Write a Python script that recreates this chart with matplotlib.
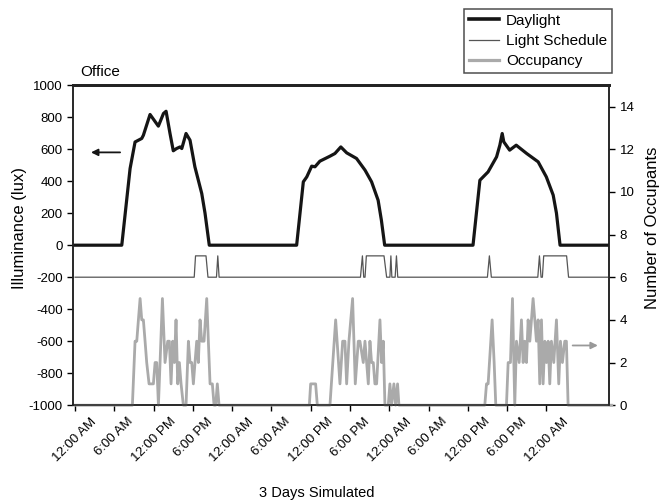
import matplotlib
matplotlib.use("Agg")
import matplotlib.pyplot as plt

plt.rcParams['font.family'] = ['Liberation Sans', 'DejaVu Sans']
plt.rcParams['axes.unicode_minus'] = False

# hours since start of simulation
daylight_hours = [0, 7.13, 8.4, 9.16, 10.18, 10.43, 11.45, 12.72, 13.5, 13.9, 14.5, 15.0, 15.5,
                  16.03, 16.3, 16.95, 17.56, 18.3, 19.35, 19.85, 20.5,
                  33.85, 34.87, 35.4, 36.15, 36.65, 37.4, 38.93, 39.7, 40.6, 41.5, 43.0, 44.3,
                  45.3, 46.3, 46.8, 47.3,
                  60.8, 61.85, 63.1, 64.4, 64.9, 65.26, 65.5, 66.4, 67.4, 69.0, 70.75, 72.0,
                  73.05, 73.55, 74.1, 82]
daylight_lux = [0, 0, 479, 645, 667, 687, 817, 744, 823, 837, 698, 590, 604,
                614, 604, 698, 656, 490, 323, 200, 0,
                0, 396, 427, 494, 490, 525, 556, 573, 614, 577, 542, 469,
                396, 281, 156, 0,
                0, 406, 458, 552, 625, 698, 646, 594, 625, 573, 521, 427,
                313, 200, 0, 0]

schedule_hours = [0, 18.2, 18.4, 20.0, 20.3, 21.6, 21.8, 22.0, 43.6, 43.9, 44.1, 44.3, 44.5,
                  47.2, 47.6, 48.1, 48.25, 48.4, 48.9, 49.1, 49.3, 63.0, 63.3, 63.6,
                  70.7, 70.95, 71.2, 71.4, 71.6, 75.1, 75.4, 82]
schedule_on = [0, 0, 1, 1, 0, 0, 1, 0, 0, 1, 0, 0, 1,
               1, 0, 0, 1, 0, 0, 1, 0, 0, 1, 0,
               0, 1, 0, 0, 1, 1, 0, 0]

occ_hours = [0,
             8.75, 9.16, 9.42, 9.67, 9.93, 10.18, 10.43, 10.69, 10.94, 11.30, 11.96, 12.22,
             12.47, 12.73, 12.98, 13.34, 13.74, 14.15, 14.40, 14.66, 14.91, 15.17, 15.42,
             15.68, 15.93, 16.19, 16.54, 16.95, 17.31, 17.56, 17.82, 18.07, 18.32, 18.58,
             18.83, 19.09, 19.34, 19.70, 20.11, 20.36, 20.62, 20.97, 21.23, 21.48, 21.73, 21.99,
             35.79, 35.99, 36.75, 37.01, 38.94, 39.81, 40.47, 40.88, 41.23, 41.49, 41.84,
             42.40, 42.81, 43.27, 43.52, 44.03, 44.29, 44.80, 45.05, 45.30, 45.56, 45.81,
             46.07, 46.58, 46.83, 47.09, 47.34, 47.85, 48.10, 48.36, 48.71, 48.97, 49.27, 49.48,
             62.60, 62.86, 63.11, 63.72, 64.03, 64.28, 65.91, 66.17, 66.52, 66.83, 67.18,
             67.44, 67.85, 68.20, 68.46, 68.71, 68.97, 69.22, 69.48, 69.73, 69.98, 70.24,
             70.49, 70.75, 71.00, 71.26, 71.51, 71.77, 72.02, 72.28, 72.53, 72.78, 73.14,
             73.55, 73.90, 74.16, 74.46, 74.82, 75.07, 75.33,
             82]
occupants = [0,
             0, 3, 3, 4, 5, 4, 4, 3, 2, 1, 1, 2,
             2, 0, 2, 5, 2, 3, 3, 1, 3, 2, 4,
             1, 2, 1, 0, 0, 3, 2, 2, 1, 2, 3,
             2, 4, 3, 3, 5, 3, 1, 1, 0, 0, 1, 0,
             0, 1, 1, 0, 0, 4, 1, 3, 3, 1, 3,
             5, 1, 3, 3, 2, 3, 1, 3, 2, 2, 1,
             1, 4, 2, 3, 0, 0, 1, 0, 1, 0, 1, 0,
             0, 1, 1, 4, 2, 0, 0, 2, 2, 5, 0,
             3, 2, 4, 2, 3, 2, 4, 3, 4, 5, 4,
             3, 4, 1, 4, 1, 3, 2, 3, 1, 3, 2,
             4, 1, 3, 2, 3, 3, 0,
             0]

tick_hours = list(range(0, 73, 6))
tick_labels = ['12:00 AM', '6:00 AM', '12:00 PM', '6:00 PM'] * 3 + ['12:00 AM']

fig = plt.figure(figsize=(6.65, 5.04), dpi=100)
ax = fig.add_axes([0.110, 0.196, 0.806, 0.635])
ax2 = ax.twinx()

ax.plot(daylight_hours, daylight_lux, color='#151515', lw=2.3, zorder=3)
ax2.plot(schedule_hours, [6 + s for s in schedule_on], color='#555555', lw=0.9)
ax2.plot(occ_hours, occupants, color='#aaaaaa', lw=2.0, clip_on=False)

ax.set_xlim(-0.3, 81.6)
ax.set_ylim(-1000, 1000)
ax2.set_ylim(0, 15)
ax.set_yticks(range(-1000, 1001, 200))
ax2.set_yticks(range(0, 15, 2))
ax.set_xticks(tick_hours)
ax.set_xticklabels(tick_labels, rotation=45, ha='center', fontsize=9.5)
ax.tick_params(axis='y', labelsize=9.5, length=4, width=1)
ax.tick_params(axis='x', length=4, width=1)
ax2.tick_params(axis='y', labelsize=9.5, length=4, width=1)

for a in (ax, ax2):
    for side in ['left', 'right', 'bottom']:
        a.spines[side].set_linewidth(1.1)
        a.spines[side].set_color('#222222')
    a.spines['top'].set_linewidth(2.0)
    a.spines['top'].set_color('#222222')

# axis titles sit a little above the middle of the axes in the reference
fig.text(20 / 665, 1 - 228 / 504, 'Illuminance (lux)', rotation=90, ha='center', va='center',
         fontsize=12)
fig.text(652 / 665, 1 - 228 / 504, 'Number of Occupants', rotation=90, ha='center',
         va='center', fontsize=12)
fig.text(317 / 665, 1 - 493 / 504, '3 Days Simulated', ha='center', va='center', fontsize=10.5)
fig.text(80 / 665, 1 - 72 / 504, 'Office', ha='left', va='center', fontsize=11)

# direction arrows
ax.annotate('', xy=(2.0, 580), xytext=(7.3, 580),
            arrowprops=dict(arrowstyle='-|>', color='#151515', lw=1.3, mutation_scale=10))
ax2.annotate('', xy=(80.3, 2.8), xytext=(75.6, 2.8),
             arrowprops=dict(arrowstyle='-|>', color='#999999', lw=1.3, mutation_scale=10))

h1, = ax.plot([], [], color='#151515', lw=2.6, label='Daylight')
h2, = ax.plot([], [], color='#555555', lw=0.9, label='Light Schedule')
h3, = ax.plot([], [], color='#aaaaaa', lw=2.3, label='Occupancy')
leg = fig.legend(handles=[h1, h2, h3], loc='upper right', bbox_to_anchor=(0.920, 0.982),
                 fontsize=11, frameon=True, fancybox=False, edgecolor='#222222',
                 handlelength=2.0, handletextpad=0.45, borderpad=0.3, labelspacing=0.42,
                 borderaxespad=0)
leg.get_frame().set_linewidth(1.1)

fig.savefig('out.png', dpi=100)
